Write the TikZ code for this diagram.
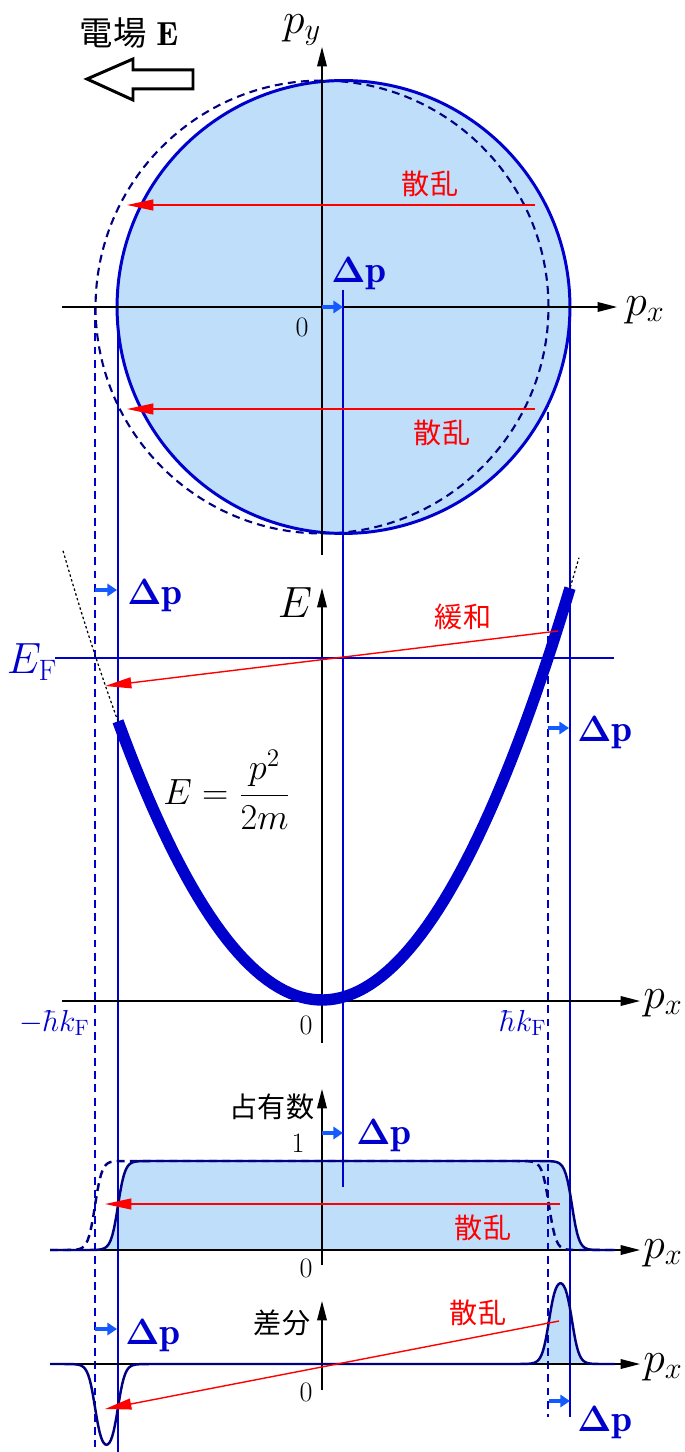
\documentclass[tikz,border=0pt]{standalone}
\usepackage{amsmath}
\usepackage{fontspec}
\newfontfamily\cjk{Noto Sans CJK JP}
\usetikzlibrary{arrows.meta}
\definecolor{lineblue}{RGB}{0,0,205}
\definecolor{navyblue}{RGB}{0,0,128}
\definecolor{seablue}{RGB}{190,222,250}
\definecolor{shiftblue}{RGB}{20,90,255}
\tikzset{
  axis/.style={line width=0.75pt,-{Triangle[length=11pt,width=5.5pt]}},
  scatter/.style={red,line width=0.8pt,-{Triangle[length=15pt,width=6.2pt]}},
  shiftarrow/.style={shiftblue,line width=2.3pt,-{Triangle[length=5.5pt,width=7pt]}},
  guide/.style={lineblue,line width=0.7pt},
  guidedash/.style={guide,dash pattern=on 4.5pt off 3pt},
  fermiline/.style={navyblue,line width=1.4pt},
  mlabel/.style={inner sep=0pt,font=\fontsize{24}{28}\selectfont},
  num/.style={inner sep=0pt,font=\fontsize{16}{18}\selectfont},
  dp/.style={lineblue,inner sep=0pt,anchor=base west,font=\fontsize{21.5}{24}\selectfont},
  jp/.style={inner sep=0pt,font=\fontsize{16}{18}\cjk\selectfont}
}
\newcommand{\dpsym}{$\boldsymbol{\Delta}\mathbf{p}$}

\begin{document}
\begin{tikzpicture}[x=0.02cm,y=-0.02cm,
  declare function={
    fermi(\x,\c)=1/(1+exp(max(min((abs(\x-\c)-227)/3.5,9),-9)));
    disp(\x)=1000-((\x-322)*0.08183)^2;}]
\useasboundingbox (0,0) rectangle (684,1452);

% occupation fill, guides, Fermi circle
\fill[seablue] plot[domain=50:615,samples=300] (\x,{1250-89*fermi(\x,345)}) -- cycle;
\fill[seablue] plot[domain=530:600,samples=80] (\x,{1364-87*(fermi(\x,345)-fermi(\x,322))}) -- cycle;
\draw[guidedash] (95,307) -- (95,1447);
\draw[guide] (118,307) -- (118,1452);
\draw[guidedash] (548,307) -- (548,1417);
\draw[guide] (570,307) -- (570,1417);
\fill[seablue] (343.5,307) circle[radius=4.53cm];
\draw[navyblue,line width=1.2pt,dash pattern=on 4.5pt off 3pt] (322,307) circle[radius=4.53cm];
\draw[lineblue,line width=1.7pt] (343.5,307) circle[radius=4.53cm];

% field
\draw[line width=1.7pt,fill=white] (87,79) -- (133,59) -- (133,70) -- (193,70) -- (193,89) -- (133,89) -- (133,100) -- cycle;
\node[inner sep=0pt,font=\fontsize{19}{21}\selectfont] (field) at (129,33) {{\cjk 電場} $\mathbf{E}$};

% momentum plane
\coordinate (o1) at (322,307);
\coordinate (s1) at (343,307);
\draw[axis] (62,307) -- (617,307);
\draw[axis] (322,555) -- (322,47);
\node[mlabel] (px1) at (645,310) {$p_x$};
\node[mlabel] (py) at (302,30) {$p_y$};
\node[num] (zero1) at (302,327) {0};
\draw[guide] (343,290) -- (343,1187);
\draw[shiftarrow] (o1) -- (s1);
\node[dp] (dp1) at (331,283) {\dpsym};
\coordinate (sa1) at (535,205);
\coordinate (sb1) at (127,205);
\coordinate (sa2) at (535,409);
\coordinate (sb2) at (127,409);
\draw[scatter] (sa1) -- (sb1);
\draw[scatter] (sa2) -- (sb2);
\node[jp,red] (sc1) at (430,184) {散乱};
\node[jp,red] (sc2) at (442,433) {散乱};

% dispersion
\draw[axis] (322,1043) -- (322,588);
\draw[axis] (62,1001) -- (640,1001);
\node[mlabel] (elab) at (295,603) {$E$};
\node[mlabel] (px2) at (663,1003) {$p_x$};
\node[num] (zero2) at (306,1025) {0};
\draw[lineblue,line width=1.1pt] (55,658) -- (614,658);
\node[mlabel,lineblue] (ef) at (32,662) {$E_{\mathrm F}$};
\draw[line width=0.7pt,dash pattern=on 1.4pt off 1.4pt] plot[domain=63:579,samples=60] (\x,{disp(\x)});
\draw[lineblue,line width=6.5pt] plot[domain=118:570,samples=80] (\x,{disp(\x)});
\node[inner sep=0pt,font=\fontsize{20}{24}\selectfont] (eq) at (227,790) {$E=\dfrac{p^2}{2m}$};
\node[lineblue,inner sep=0pt,anchor=base east,font=\fontsize{18}{20}\selectfont] (kl) at (90,1031) {$-\hbar k_{\mathrm F}$};
\node[lineblue,inner sep=0pt,anchor=base west,font=\fontsize{18}{20}\selectfont] (kr) at (499,1031) {$\hbar k_{\mathrm F}$};
\coordinate (ra) at (558,631);
\coordinate (rb) at (105,686);
\draw[scatter] (ra) -- (rb);
\node[jp,red] (relax) at (463,617) {緩和};
\coordinate (d1a) at (95,590);
\coordinate (d1b) at (117,590);
\draw[shiftarrow] (d1a) -- (d1b);
\node[dp] (dp2) at (127,604) {\dpsym};
\coordinate (d2a) at (548,728);
\coordinate (d2b) at (569,728);
\draw[shiftarrow] (d2a) -- (d2b);
\node[dp] (dp3) at (577,741) {\dpsym};

% occupation
\draw[axis] (50,1250) -- (640,1250);
\draw[axis] (322,1265) -- (322,1089);
\draw[fermiline,dash pattern=on 4.5pt off 3pt] plot[domain=50:615,samples=300] (\x,{1250-89*fermi(\x,322)});
\draw[fermiline] plot[domain=50:615,samples=300] (\x,{1250-89*fermi(\x,345)});
\node[jp] (occ) at (272,1107) {占有数};
\node[num] (one) at (298,1143) {1};
\node[num] (zero3) at (306,1268) {0};
\node[mlabel] (px3) at (663,1253) {$p_x$};
\coordinate (d3a) at (322,1133);
\coordinate (d3b) at (343,1133);
\draw[shiftarrow] (d3a) -- (d3b);
\node[dp] (dp4) at (356,1144) {\dpsym};
\coordinate (sa3) at (560,1204);
\coordinate (sb3) at (105,1204);
\draw[scatter] (sa3) -- (sb3);
\node[jp,red] (sc3) at (483,1228) {散乱};

% difference
\draw[axis] (50,1364) -- (640,1364);
\draw[axis] (322,1390) -- (322,1301);
\draw[fermiline] plot[domain=50:615,samples=400] (\x,{1364-87*(fermi(\x,345)-fermi(\x,322))});
\node[jp] (diff) at (282,1323) {差分};
\node[num] (zero4) at (306,1392) {0};
\node[mlabel] (px4) at (663,1367) {$p_x$};
\coordinate (sa4) at (559,1321);
\coordinate (sb4) at (105,1409);
\draw[scatter] (sa4) -- (sb4);
\node[jp,red] (sc4) at (478,1313) {散乱};
\coordinate (d4a) at (95,1329);
\coordinate (d4b) at (117,1329);
\draw[shiftarrow] (d4a) -- (d4b);
\node[dp] (dp5) at (125,1344) {\dpsym};
\coordinate (d5a) at (549,1401);
\coordinate (d5b) at (570,1401);
\draw[shiftarrow] (d5a) -- (d5b);
\node[dp] (dp6) at (577,1431) {\dpsym};
\end{tikzpicture}
\end{document}
